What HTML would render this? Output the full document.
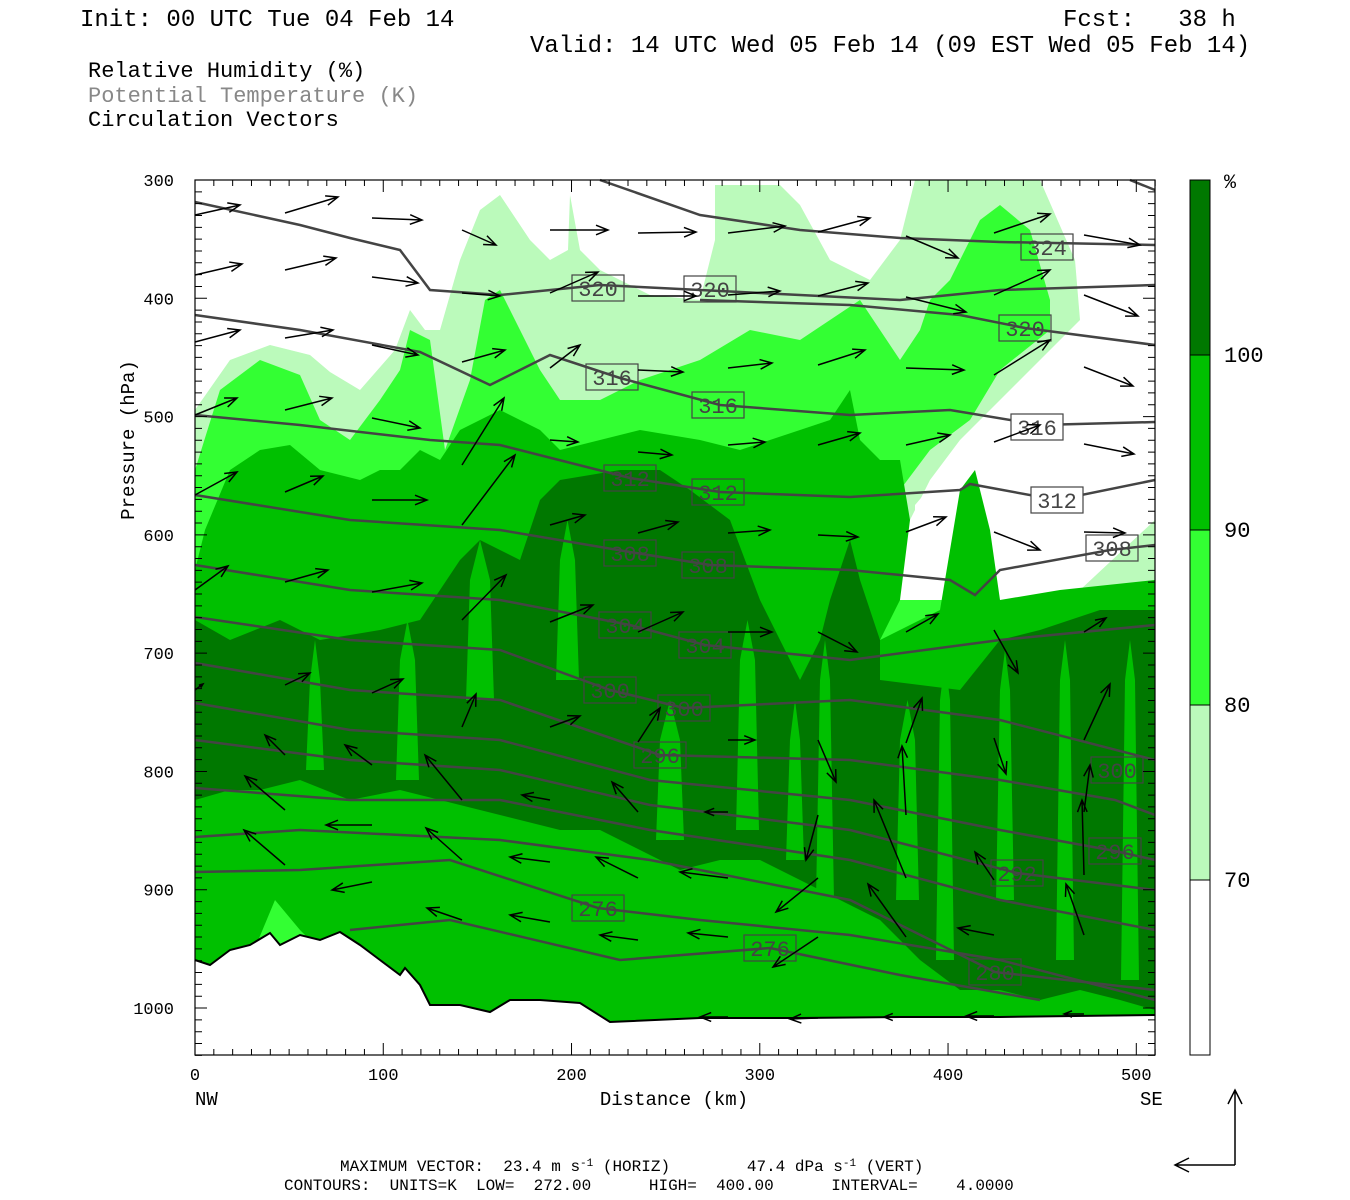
<!DOCTYPE html>
<html><head><meta charset="utf-8"><style>
html,body{margin:0;padding:0;background:#fff;width:1350px;height:1200px;overflow:hidden}
svg{display:block}
text{font-family:"Liberation Mono",monospace;fill:#000;white-space:pre}
</style></head><body>
<svg id="s" width="1350" height="1200" xmlns="http://www.w3.org/2000/svg" xml:space="preserve">
<text x="80" y="26" font-size="24">Init: 00 UTC Tue 04 Feb 14</text>
<text x="1063" y="26" font-size="24">Fcst:   38 h</text>
<text x="530" y="52" font-size="24">Valid: 14 UTC Wed 05 Feb 14 (09 EST Wed 05 Feb 14)</text>
<text x="88" y="77" font-size="22">Relative Humidity (%)</text>
<text x="88" y="102" font-size="22" style="fill:#888">Potential Temperature (K)</text>
<text x="88" y="126" font-size="22">Circulation Vectors</text>
<g id="plot"></g>
<text x="674" y="1105" font-size="19" text-anchor="middle">Distance (km)</text>
<text x="195" y="1105" font-size="19">NW</text>
<text x="1140" y="1105" font-size="19">SE</text>
<text transform="translate(134,440) rotate(-90)" font-size="19" text-anchor="middle">Pressure (hPa)</text>
<text x="340" y="1171" font-size="16">MAXIMUM VECTOR:  23.4 m s<tspan dy="-5" font-size="11">-1</tspan><tspan dy="5"> (HORIZ)        47.4 dPa s</tspan><tspan dy="-5" font-size="11">-1</tspan><tspan dy="5"> (VERT)</tspan></text>
<text x="284" y="1190" font-size="16">CONTOURS:  UNITS=K  LOW=  272.00      HIGH=  400.00      INTERVAL=    4.0000</text>
<g stroke="#000" stroke-width="1.5" fill="none">
<path d="M1235,1165 V1090 M1228,1104 L1235,1090 L1242,1104 M1235,1165 H1175 M1189,1158 L1175,1165 L1189,1172"/>
</g>
<rect x="1190" y="180" width="20" height="175" fill="#007800" stroke="#000"/>
<rect x="1190" y="355" width="20" height="175" fill="#00c000" stroke="#000"/>
<rect x="1190" y="530" width="20" height="175" fill="#33ff33" stroke="#000"/>
<rect x="1190" y="705" width="20" height="175" fill="#bbfabb" stroke="#000"/>
<rect x="1190" y="880" width="20" height="175" fill="#fff" stroke="#000"/>
<text x="1224" y="188" font-size="20">%</text>
<text x="1224" y="362" font-size="22">100</text>
<text x="1224" y="537" font-size="22">90</text>
<text x="1224" y="712" font-size="22">80</text>
<text x="1224" y="887" font-size="22">70</text>
</svg>
<script>
var NS="http://www.w3.org/2000/svg",g=document.getElementById("plot");
function el(t,a,p){var e=document.createElementNS(NS,t);for(var k in a)e.setAttribute(k,a[k]);(p||g).appendChild(e);return e;}
function pts(a){return a.map(function(p){return p.join(",")}).join(" ");}
el("rect",{x:195,y:180,width:960,height:875,fill:"#fff"});
var light=[[195,410],[230,360],[270,345],[310,355],[330,372],[360,390],[395,350],[410,310],[425,330],[440,330],[460,260],[480,210],[500,195],[530,240],[550,260],[568,250],[570,195],[580,250],[600,270],[650,295],[700,300],[715,240],[715,185],[780,185],[800,205],[830,260],[870,280],[900,240],[915,180],[1040,180],[1075,260],[1080,320],[1050,350],[1000,400],[960,440],[930,480],[900,540],[880,600],[1000,610],[1080,590],[1155,520],[1155,1055],[195,1055]];
el("polygon",{points:pts(light),fill:"#bbfabb"});
el("polygon",{points:pts([[980,430],[1040,370],[1100,330],[1155,310],[1155,520],[1100,545],[1040,560],[1000,565],[985,500],[975,455]]),fill:"#fff"});
el("polygon",{points:pts([[915,505],[945,470],[965,470],[960,545],[935,548],[915,530]]),fill:"#fff"});
var bright=[[195,470],[220,390],[260,360],[300,375],[320,420],[350,440],[380,400],[400,370],[410,330],[430,340],[445,450],[470,380],[485,300],[500,290],[520,330],[540,370],[560,400],[600,400],[640,380],[700,360],[750,330],[800,340],[830,320],[860,300],[880,330],[900,360],[920,330],[930,300],[950,280],[960,260],[980,220],[1000,205],[1030,230],[1050,300],[1050,330],[1000,370],[970,420],[930,450],[900,490],[880,540],[870,600],[990,600],[1000,625],[1080,610],[1155,590],[1155,1055],[195,1055]];
el("polygon",{points:pts(bright),fill:"#33ff33"});
var mid=[[195,570],[205,530],[230,470],[260,450],[290,445],[320,470],[360,480],[380,470],[400,470],[420,450],[440,460],[460,430],[500,410],[520,420],[540,430],[560,450],[600,440],[640,430],[700,440],[740,450],[800,430],[830,420],[850,390],[860,440],[880,460],[900,460],[910,520],[900,600],[880,640],[940,610],[960,490],[975,470],[990,530],[1000,600],[1060,590],[1155,580],[1155,1055],[195,1055]];
el("polygon",{points:pts(mid),fill:"#00c000"});
el("polygon",{points:pts([[250,960],[275,900],[300,930],[330,960],[320,990],[260,990]]),fill:"#33ff33"});
var dark=[[195,620],[230,640],[280,620],[320,640],[380,630],[420,620],[460,560],[480,540],[520,560],[540,500],[560,480],[620,470],[660,470],[690,490],[730,520],[760,600],[780,640],[800,680],[820,640],[830,600],[850,540],[860,580],[880,640],[880,680],[960,690],[1000,640],[1040,630],[1100,610],[1155,610],[1155,1010],[1120,1000],[1080,990],[1040,1000],[1000,990],[960,990],[920,960],[880,920],[840,900],[800,880],[760,860],[720,860],[680,870],[640,850],[600,830],[560,830],[520,820],[480,810],[440,800],[400,790],[350,800],[300,780],[260,790],[230,790],[195,800]];
el("polygon",{points:pts(dark),fill:"#007800"});
[[470,540,490,700],[560,520,575,680],[740,620,755,830],[790,700,800,860],[820,640,830,900],[900,700,915,900],[940,660,950,960],[1000,650,1010,900],[1060,640,1070,960],[1125,640,1135,980],[400,620,415,780],[310,640,320,770],[660,700,680,840]].forEach(function(s){
 var cx=(s[0]+s[2])/2;el("polygon",{points:pts([[s[0],s[1]+40],[cx,s[1]],[s[2],s[1]+40],[s[2]+4,s[3]],[s[0]-4,s[3]]]),fill:"#00c000"});});
var terr=[[195,960],[210,965],[230,950],[250,945],[270,933],[280,945],[300,935],[320,940],[340,932],[360,945],[380,960],[400,975],[405,968],[420,985],[430,1005],[460,1005],[490,1012],[510,1000],[540,1000],[580,1003],[610,1022],[700,1018],[800,1018],[900,1017],[1000,1017],[1155,1015]];
el("polygon",{points:pts(terr.concat([[1155,1055],[195,1055]])),fill:"#fff"});
el("polyline",{points:pts(terr),fill:"none",stroke:"#000","stroke-width":2});
var lines=[
[[600,180],[700,215],[800,230],[900,238],[1000,242],[1155,245]],
[[1130,180],[1155,190]],
[[195,202],[300,225],[350,238],[400,250],[430,290],[500,295],[600,285],[700,290],[800,295],[900,300],[1000,290],[1155,285]],
[[195,315],[300,330],[420,352],[490,385],[550,355],[620,378],[720,405],[850,415],[950,410],[1040,425],[1155,422]],
[[700,300],[850,305],[960,315],[1025,328],[1155,345]],
[[195,415],[300,425],[430,440],[500,445],[630,478],[720,492],[850,497],[960,490],[970,484],[1057,500],[1155,480]],
[[195,495],[350,520],[500,530],[630,552],[710,565],[850,570],[950,580],[975,595],[1000,570],[1110,550],[1155,545]],
[[195,565],[350,590],[500,600],[630,625],[705,645],[850,660],[1000,640],[1155,625]],
[[195,617],[350,640],[500,650],[610,690],[684,708],[850,700],[1000,720],[1155,760]],
[[195,663],[350,690],[500,700],[660,755],[850,760],[1000,780],[1115,800],[1155,815]],
[[195,703],[350,730],[500,740],[650,780],[850,800],[1000,830],[1115,851],[1155,860]],
[[195,740],[350,760],[500,770],[650,805],[850,830],[1017,873],[1155,890]],
[[195,788],[350,800],[500,800],[650,830],[850,860],[1000,900],[1155,930]],
[[195,837],[300,830],[500,840],[650,860],[850,900],[995,972],[1155,990]],
[[195,872],[300,870],[450,860],[598,908],[700,920],[850,935],[1000,960],[1155,1000]],
[[350,930],[450,920],[620,960],[770,948],[900,975],[1040,1000]]];
lines.forEach(function(l){el("polyline",{points:pts(l),fill:"none",stroke:"#444","stroke-width":2.5});});
var labels=[[1047,247,"324"],[598,288,"320"],[710,289,"320"],[1025,328,"320"],[612,377,"316"],[718,405,"316"],[1037,427,"316"],[630,478,"312"],[718,492,"312"],[1057,500,"312"],[630,553,"308"],[708,565,"308"],[1112,548,"308"],[625,625,"304"],[705,645,"304"],[610,690,"300"],[684,708,"300"],[660,755,"296"],[1117,770,"300"],[1115,851,"296"],[1017,873,"292"],[995,972,"280"],[598,908,"276"],[770,948,"276"]];
labels.forEach(function(L){var w=52,h=26;var bg=L[1]<540?(L[0]>980&&L[1]>330?"#fff":null):null;
 el("rect",{x:L[0]-w/2,y:L[1]-h/2,width:w,height:h,fill:bg||"none",stroke:"#444","stroke-width":1.2});
 var t=el("text",{x:L[0],y:L[1]+8,"font-size":22,"text-anchor":"middle"});t.style.fill="#444";t.textContent=L[2];});
var V=[[195,215,240,205],[285,213,338,197],[372,218,422,220],[462,230,496,245],[550,230,608,230],[638,233,696,232],[728,233,785,226],[818,232,870,218],[906,236,958,258],[994,233,1050,214],[1084,235,1140,245],
[195,275,242,264],[285,270,336,258],[372,277,418,283],[462,293,500,296],[550,293,598,272],[638,296,696,296],[728,295,780,291],[818,296,868,283],[906,297,966,312],[994,295,1050,270],[1084,295,1138,316],
[195,342,240,330],[285,338,333,330],[372,345,418,355],[462,362,505,350],[550,368,580,345],[638,370,683,372],[728,368,772,363],[818,365,865,350],[906,368,964,370],[994,375,1050,340],[1084,367,1133,386],
[195,415,237,398],[285,410,332,398],[372,418,420,428],[462,465,504,398],[550,440,578,442],[638,452,672,455],[728,445,765,442],[818,445,860,433],[906,445,950,435],[994,442,1040,425],[1084,444,1134,454],
[195,495,237,472],[285,492,323,476],[372,500,427,500],[462,525,515,455],[550,525,585,515],[638,533,678,522],[728,533,770,530],[818,535,858,537],[906,532,946,517],[994,532,1040,550],[1084,532,1125,533],
[195,590,228,566],[285,582,328,570],[372,592,422,583],[462,620,506,575],[550,622,593,605],[638,632,683,612],[728,632,772,632],[818,632,857,652],[906,632,938,614],[994,630,1018,673],[1084,632,1106,618],
[195,690,203,684],[285,685,310,673],[372,693,403,679],[462,727,476,694],[550,727,580,716],[638,742,660,708],[728,740,755,740],[818,740,836,782],[906,743,922,698],[994,738,1006,774],[1084,740,1110,684],
[285,755,265,735],[372,765,345,745],[462,800,425,755],[550,800,522,795],[638,812,612,782],[728,812,705,812],[818,815,806,860],[906,815,902,746],[1084,812,1090,765],
[285,810,245,776],[372,825,326,825],[462,860,426,828],[550,862,510,857],[638,878,596,857],[728,878,680,872],[818,878,776,912],[906,878,874,800],[994,880,975,852],[1084,875,1082,800],
[285,865,244,830],[372,882,332,890],[462,920,427,908],[550,922,510,915],[638,940,600,935],[728,937,688,933],[818,937,773,967],[906,937,868,884],[994,935,958,928],[1084,935,1066,884],
[728,1017,700,1017],[818,1018,790,1019],[906,1017,884,1017],[994,1016,966,1016],[1084,1014,1064,1014]];
V.forEach(function(v){var dx=v[2]-v[0],dy=v[3]-v[1],L=Math.hypot(dx,dy)||1,ux=dx/L,uy=dy/L,h=Math.min(12,L*0.4);
 var a1=[v[2]-h*ux+h*0.4*uy,v[3]-h*uy-h*0.4*ux],a2=[v[2]-h*ux-h*0.4*uy,v[3]-h*uy+h*0.4*ux];
 el("path",{d:"M"+v[0]+","+v[1]+"L"+v[2]+","+v[3]+"M"+a1+"L"+v[2]+","+v[3]+"L"+a2,fill:"none",stroke:"#000","stroke-width":1.5});});
el("rect",{x:195,y:180,width:960,height:875,fill:"none",stroke:"#000","stroke-width":1.2});
var d="";
for(var p=300;p<=1040;p+=10){var y=180+(p-300)*1.1829;var len=(p%100==0)?12:7;d+="M195,"+y+"h"+len+"M1155,"+y+"h-"+len;}
for(var k=0;k<=510;k+=10){var x=195+k*1.8826;var len=(k%100==0)?12:6;d+="M"+x+",1055v-"+len+"M"+x+",180v"+len;}
el("path",{d:d,stroke:"#000","stroke-width":1,fill:"none"});
for(var p=300;p<=1000;p+=100){var y=180+(p-300)*1.1829;var t=el("text",{x:174,y:y+6,"font-size":17,"text-anchor":"end"});t.textContent=p;}
for(var k=0;k<=500;k+=100){var x=195+k*1.8826;var t=el("text",{x:x,y:1080,"font-size":17,"text-anchor":"middle"});t.textContent=k;}
</script>
</body></html>
